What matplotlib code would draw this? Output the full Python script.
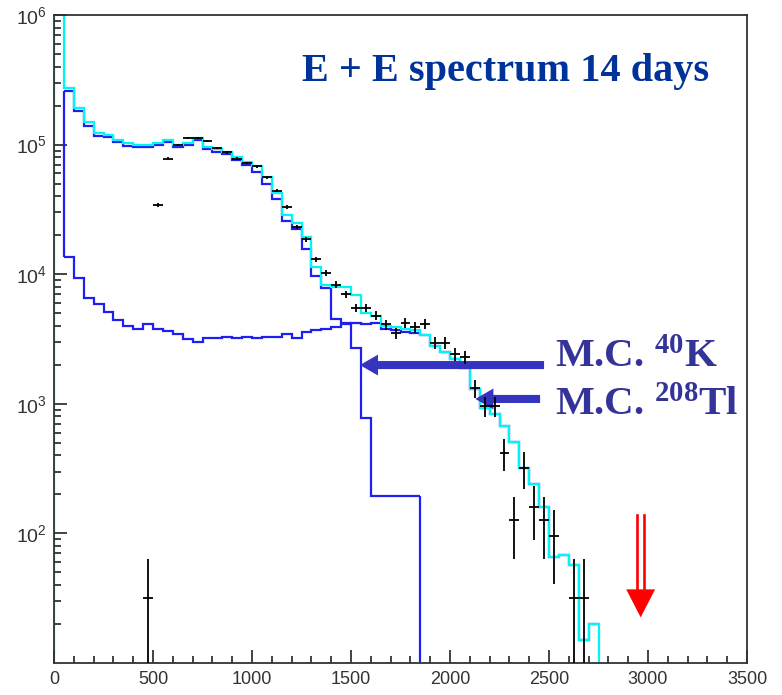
import numpy as np
import matplotlib
matplotlib.use("Agg")
import matplotlib.pyplot as plt
from matplotlib.ticker import MultipleLocator, LogLocator, NullFormatter

# ---------------- data ----------------
BIN_WIDTH = 50  # keV

# total Monte-Carlo (cyan), bins starting at 0 keV
total_start = 0
total_counts = [3.0e6, 2.72e5, 1.90e5, 1.49e5, 1.22e5, 1.19e5, 1.08e5, 1.02e5, 9.9e4, 9.9e4,
                1.03e5, 1.08e5, 9.9e4, 1.03e5, 1.13e5, 9.6e4, 9.2e4, 8.8e4, 8.0e4, 7.4e4,
                6.8e4, 5.65e4, 4.2e4, 2.86e4, 2.5e4, 1.92e4, 1.14e4, 8.3e3, 8.0e3, 8.0e3,
                6.9e3, 5.0e3, 4.8e3, 4.0e3, 3.9e3, 3.8e3, 3.7e3, 3.4e3, 2.8e3, 2.5e3,
                2.2e3, 1.9e3, 1.3e3, 9.2e2, 8.4e2, 6.7e2, 5.1e2, 3.2e2, 2.4e2, 1.6e2,
                66, 68, 57, 15, 20]

# M.C. 40K (blue), bins starting at 50 keV
k40_start = 50
k40_counts = [2.6e5, 1.82e5, 1.40e5, 1.16e5, 1.14e5, 1.04e5, 9.8e4, 9.55e4, 9.55e4, 9.9e4,
              1.04e5, 9.55e4, 9.9e4, 1.09e5, 9.2e4, 8.8e4, 8.4e4, 7.6e4, 6.9e4, 6.1e4,
              5.0e4, 3.8e4, 2.57e4, 2.23e4, 1.56e4, 9.7e3, 7.8e3, 4.5e3, 4.2e3, 2.7e3,
              7.8e2, 1.95e2, 1.95e2, 1.95e2, 1.95e2, 1.95e2]

# M.C. 208Tl (blue), bins starting at 50 keV
tl_start = 50
tl_counts = [1.36e4, 9.3e3, 6.6e3, 5.9e3, 5.1e3, 4.4e3, 4.0e3, 3.77e3, 4.1e3, 3.76e3,
             3.65e3, 3.45e3, 3.15e3, 3.0e3, 3.2e3, 3.2e3, 3.3e3, 3.23e3, 3.3e3, 3.23e3,
             3.3e3, 3.3e3, 3.45e3, 3.23e3, 3.6e3, 3.7e3, 3.8e3, 3.9e3, 4.1e3, 4.2e3,
             4.1e3, 4.2e3, 3.8e3, 3.7e3, 3.6e3, 3.5e3, 3.4e3, 2.8e3, 2.5e3, 2.2e3,
             1.9e3, 1.3e3, 9.2e2, 8.4e2, 6.7e2, 5.1e2, 3.2e2, 2.4e2, 1.6e2, 66,
             68, 57, 15, 20]

# measured data (black crosses): bin centres and contents
data_energy = [475, 525, 575, 625, 675, 725, 775, 825, 875, 925,
               975, 1025, 1075, 1125, 1175, 1225, 1275, 1325, 1375, 1425,
               1475, 1525, 1575, 1625, 1675, 1725, 1775, 1825, 1875, 1925,
               1975, 2025, 2075, 2125, 2175, 2225, 2275, 2325, 2375, 2425,
               2475, 2525, 2625, 2675]
data_counts = [32, 3.42e4, 7.8e4, 9.9e4, 1.13e5, 1.13e5, 1.07e5, 9.4e4, 8.7e4, 7.8e4,
               7.2e4, 6.8e4, 5.6e4, 4.4e4, 3.3e4, 2.33e4, 1.86e4, 1.3e4, 1.02e4, 8.3e3,
               7.0e3, 5.5e3, 5.5e3, 4.8e3, 4.1e3, 3.5e3, 4.2e3, 3.9e3, 4.15e3, 2.96e3,
               2.96e3, 2.42e3, 2.3e3, 1.32e3, 960, 960, 416, 128, 320, 160,
               128, 96, 32, 32]
EVENT_WEIGHT = 32.0   # one raw event corresponds to ~32 counts in the scaled histogram

x_ticks = [0, 500, 1000, 1500, 2000, 2500, 3000, 3500]
y_ticks = [1e2, 1e3, 1e4, 1e5, 1e6]

title_text = "E + E spectrum 14 days"
label_k40 = r"M.C. $^{40}$K"
label_tl = r"M.C. $^{208}$Tl"

# ---------------- figure ----------------
plt.rcParams['mathtext.default'] = 'regular'
W, H = 782, 695
fig = plt.figure(figsize=(W / 100, H / 100), dpi=100)
ax = fig.add_axes([54 / W, 1 - 663 / H, (747 - 54) / W, (663 - 15) / H])

def edges_for(start, n):
    return start + BIN_WIDTH * np.arange(n + 1)

tot = np.asarray(total_counts, float)
k40 = np.asarray(k40_counts, float)
tl = np.asarray(tl_counts, float)
e_tot = edges_for(total_start, len(tot))
e_k40 = edges_for(k40_start, len(k40))
e_tl = edges_for(tl_start, len(tl))

blue = '#1f1ff2'
cyan = '#00f5f5'

ax.stairs(tl, e_tl, baseline=None, color=blue, lw=1.6)
ax.stairs(k40, e_k40, baseline=None, color=blue, lw=1.6)
ax.vlines(e_k40[0], tl[0], k40[0], color=blue, lw=1.6)
ax.vlines(e_k40[-1], 1, k40[-1], color=blue, lw=1.6)
ax.stairs(tot, e_tot, baseline=1, color=cyan, lw=1.6)

dc = np.asarray(data_counts, float)
derr = np.sqrt(dc * EVENT_WEIGHT)
ax.errorbar(data_energy, dc, yerr=derr, xerr=BIN_WIDTH / 2, fmt='none',
            ecolor='black', elinewidth=1.3, capsize=0, zorder=5)

ax.set_yscale('log')
ax.set_xlim(0, 3500)
ax.set_ylim(10, 1e6)

ax.xaxis.set_minor_locator(MultipleLocator(100))
ax.set_xticks(x_ticks)
ax.set_xticklabels([str(t) for t in x_ticks])
ax.set_yticks(y_ticks)
ax.set_yticklabels([r'$10^{%d}$' % int(np.log10(v)) for v in y_ticks])
ax.yaxis.set_minor_locator(LogLocator(base=10, subs=np.arange(2, 10), numticks=20))
ax.yaxis.set_minor_formatter(NullFormatter())

for s in ax.spines.values():
    s.set_color('#333333')
    s.set_linewidth(1.3)
ax.tick_params(which='both', direction='in', top=False, right=False, colors='#222222',
               width=1.2)
ax.tick_params(which='major', length=9.5, pad=6)
ax.tick_params(axis='x', which='major', labelsize=13)
ax.tick_params(axis='y', which='major', labelsize=14, pad=5)
ax.tick_params(which='minor', length=5)
for lab in ax.get_xticklabels() + ax.get_yticklabels():
    lab.set_fontfamily('Liberation Sans')
    lab.set_color('#333333')

# ---------------- annotations ----------------
fig.text(506 / W, 1 - 72 / H, title_text, ha='center', va='center',
         fontsize=29, fontweight='bold', family='Liberation Serif', color='#003399')

lab_color = '#333399'
fig.text(555 / W, 1 - 367 / H, label_k40, ha='left', va='baseline', fontsize=29.5,
         fontweight='bold', family='Liberation Serif', color=lab_color)
fig.text(555 / W, 1 - 415 / H, label_tl, ha='left', va='baseline', fontsize=29.5,
         fontweight='bold', family='Liberation Serif', color=lab_color)

arrow_color = '#3434c0'
arrow_style = 'simple,head_length=13,head_width=15,tail_width=5.8'
ax.annotate('', xy=(1545, 1.99e3), xytext=(2475, 1.99e3),
            arrowprops=dict(arrowstyle=arrow_style, mutation_scale=1, color=arrow_color,
                            shrinkA=0, shrinkB=0, lw=0))
ax.annotate('', xy=(2128, 1.09e3), xytext=(2455, 1.09e3),
            arrowprops=dict(arrowstyle=arrow_style, mutation_scale=1, color=arrow_color,
                            shrinkA=0, shrinkB=0, lw=0))

# red double-shafted arrow
ax.plot([2946, 2946], [37, 139], color='red', lw=1.9)
ax.plot([2978, 2978], [37, 139], color='red', lw=1.9)
ax.fill([2890, 3036, 2963], [37, 37, 22.5], color='red', lw=0)

fig.savefig('out.png', dpi=100, facecolor='white')
